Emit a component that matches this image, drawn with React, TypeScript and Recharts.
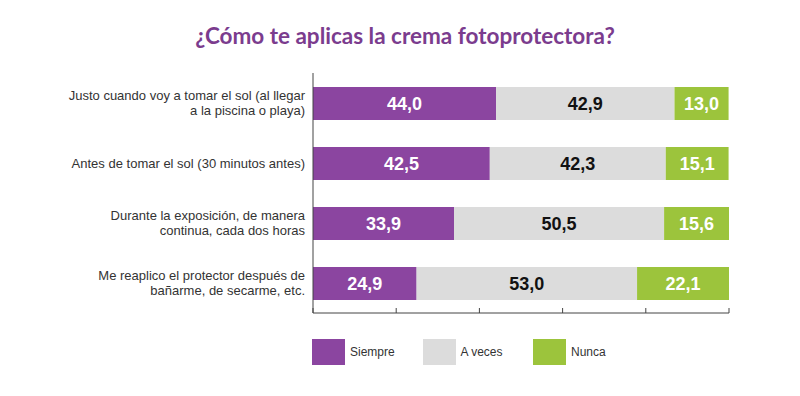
import React from 'react';
import { BarChart, Bar, XAxis, YAxis, LabelList, Legend } from 'recharts';

const categories = [
  'Justo cuando voy a tomar el sol (al llegar\na la piscina o playa)',
  'Antes de tomar el sol (30 minutos antes)',
  'Durante la exposición, de manera\ncontinua, cada dos horas',
  'Me reaplico el protector después de\nbañarme, de secarme, etc.',
];
const siempre = [44.0, 42.5, 33.9, 24.9];
const aVeces = [42.9, 42.3, 50.5, 53.0];
const nunca = [13.0, 15.1, 15.6, 22.1];
const seriesNames = ['Siempre', 'A veces', 'Nunca'];
const seriesColors = ['#8b45a0', '#dcdcdc', '#9cc43c'];
const labelColors = ['#ffffff', '#111111', '#ffffff'];
const xTicks = [0, 20, 40, 60, 80, 100];
const title = '¿Cómo te aplicas la crema fotoprotectora?';

const data = categories.map((c, i) => ({
  name: c,
  siempre: siempre[i],
  aVeces: aVeces[i],
  nunca: nunca[i],
}));
const keys = ['siempre', 'aVeces', 'nunca'];

const fmt = (v: any) => Number(v).toFixed(1).replace('.', ',');

const YTick = (props: any) => {
  const { x, y, payload } = props;
  const lines = String(payload.value).split('\n');
  const lh = 15;
  const start = y - ((lines.length - 1) * lh) / 2;
  return (
    <text
      x={x}
      y={start}
      textAnchor="end"
      fontFamily="'Liberation Sans', Arial, sans-serif"
      fontSize={13}
      fill="#333"
    >
      {lines.map((l, i) => (
        <tspan key={i} x={x} y={start + i * lh} dy="0.35em">
          {l}
        </tspan>
      ))}
    </text>
  );
};

const LegendContent = () => (
  <div style={{ display: 'flex', paddingLeft: 312 }}>
    {seriesNames.map((n, i) => (
      <div key={n} style={{ display: 'flex', alignItems: 'center', width: 110.5 }}>
        <div style={{ width: 33, height: 26, background: seriesColors[i] }} />
        <span
          style={{
            marginLeft: 5,
            fontFamily: "'Liberation Sans', Arial, sans-serif",
            fontSize: 12,
            color: '#333',
          }}
        >
          {n}
        </span>
      </div>
    ))}
  </div>
);

export default function App() {
  return (
    <div style={{ position: 'absolute', left: 0, top: 0, width: 800, height: 396, background: '#fff' }}>
      <div
        style={{
          position: 'absolute',
          left: 0,
          top: 22,
          width: 810,
          textAlign: 'center',
          fontFamily: 'Lato, sans-serif',
          fontWeight: 700,
          fontSize: 22.5,
          color: '#7b3c8e',
          zIndex: 2,
        }}
      >
        {title}
      </div>
      <BarChart
        width={800}
        height={396}
        data={data}
        layout="vertical"
        margin={{ top: 73, right: 71, bottom: 53, left: 0 }}
        barSize={33}
      >
        <XAxis
          type="number"
          domain={[0, 100]}
          ticks={xTicks}
          allowDataOverflow
          height={30}
          tickSize={-5}
          tickFormatter={() => ''}
          stroke="#444"
        />
        <YAxis
          type="category"
          dataKey="name"
          width={313}
          tickLine={false}
          tick={<YTick />}
          stroke="#444"
          interval={0}
        />
        <Legend
          layout="horizontal"
          verticalAlign="middle"
          align="center"
          content={<LegendContent />}
          wrapperStyle={{ position: 'absolute', left: 0, top: 339, width: 800 }}
        />
        {keys.map((k, i) => (
          <Bar
            key={k}
            dataKey={k}
            name={seriesNames[i]}
            stackId="a"
            fill={seriesColors[i]}
            isAnimationActive={false}
          >
            <LabelList
              dataKey={k}
              position="center"
              formatter={fmt}
              fill={labelColors[i]}
              fontSize={18}
              fontWeight="bold"
              fontFamily="'Liberation Sans', Arial, sans-serif"
            />
          </Bar>
        ))}
      </BarChart>
    </div>
  );
}
